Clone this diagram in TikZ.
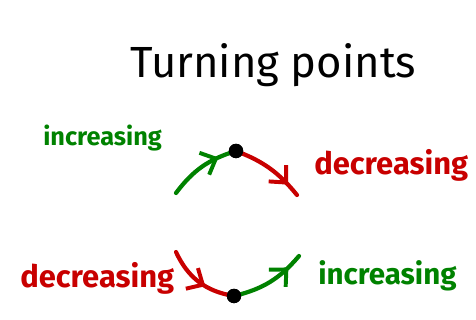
\documentclass[tikz,border=0pt]{standalone}
\usepackage{fontspec}
\setmainfont{Fira Sans}
\usepackage{tikz}
\usetikzlibrary{arrows.meta,decorations.markings}

\definecolor{incgreen}{RGB}{0,130,0}
\definecolor{decred}{RGB}{200,0,0}

\begin{document}
\begin{tikzpicture}[
    x=0.025cm, y=-0.025cm,
    lbl/.style={anchor=base west, inner sep=0pt, font=\bfseries\fontsize{#1}{#1}\selectfont},
    inc/.style={lbl=#1, text=incgreen},
    dec/.style={lbl=#1, text=decred},
    tp/.style={circle, fill=black, inner sep=0pt, minimum size=0.36cm},
    arr/.style={line width=3pt, line cap=round, postaction={decorate},
                decoration={markings, mark=at position #1 with
                  {\arrow{Straight Barb[length=9pt, width=17pt, line width=2.8pt]}}}},
    incarr/.style={arr=#1, draw=incgreen},
    decarr/.style={arr=#1, draw=decred}
]
\useasboundingbox (0,0) rectangle (476,320);
\node[anchor=base west, inner sep=0pt, font=\fontsize{31}{31}\selectfont] (title) at (130,78) {Turning points};
% maximum
\node[inc=18] (incup) at (43,146) {increasing};
\node[dec=22] (decdown) at (314,175) {decreasing};
\coordinate (maxin) at (176,193);
\coordinate (maxout) at (297,195);
\node[tp] (max) at (236,151) {};
\draw[incarr=0.75] (maxin) to[bend left=18] (max.center);
\draw[decarr=0.82] (max.center) to[bend left=15] (maxout);
\node[tp] at (max) {};
% minimum
\node[dec=22] (decleft) at (20,288) {decreasing};
\node[inc=21] (incright) at (318,285) {increasing};
\coordinate (minin) at (176,252);
\coordinate (minout) at (299,256);
\node[tp] (min) at (234,296) {};
\draw[decarr=0.6] (minin) to[bend right=28] (min.center);
\draw[incarr=0.8] (min.center) to[bend right=18] (minout);
\node[tp] at (min) {};
\end{tikzpicture}
\end{document}
